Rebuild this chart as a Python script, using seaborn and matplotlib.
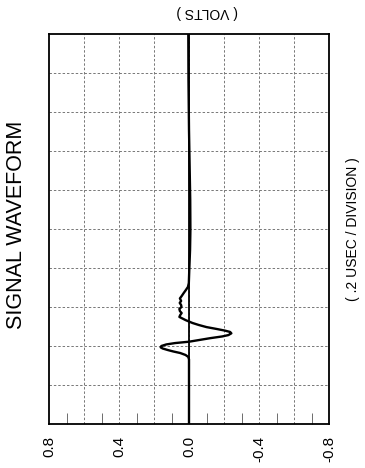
import matplotlib
matplotlib.use("Agg")
import matplotlib.pyplot as plt
import seaborn as sns
import numpy as np
from matplotlib.ticker import FixedLocator, FixedFormatter
from matplotlib import font_manager

# ---- data (time in microseconds, signal in volts) ----
time_us = [0.000, 0.331, 0.344, 0.354, 0.364, 0.372, 0.379, 0.387, 0.393, 0.400,
           0.408, 0.415, 0.422, 0.431, 0.440, 0.449, 0.456, 0.465, 0.472, 0.479,
           0.487, 0.497, 0.508, 0.518, 0.533, 0.549, 0.559, 0.569, 0.579, 0.590,
           0.600, 0.610, 0.621, 0.631, 0.644, 0.656, 0.672, 0.687, 0.703, 0.723,
           0.800, 0.892, 0.995, 1.149, 1.303, 1.508, 1.764, 2.000]
volts = [0.000, 0.000, 0.004, 0.020, 0.050, 0.090, 0.120, 0.150, 0.162, 0.158,
         0.130, 0.080, 0.000, -0.060, -0.120, -0.190, -0.225, -0.242, -0.235, -0.205,
         -0.160, -0.100, -0.055, -0.020, 0.020, 0.055, 0.050, 0.042, 0.052, 0.055,
         0.043, 0.045, 0.053, 0.045, 0.052, 0.042, 0.030, 0.018, 0.006, 0.001,
         -0.002, -0.006, -0.008, -0.007, -0.004, 0.000, 0.003, 0.004]

volt_ticks = [0.8, 0.4, 0.0, -0.4, -0.8]
volt_tick_labels = ["0.8", "0.4", "0.0", "-0.4", "-0.8"]
title = "SIGNAL WAVEFORM"
x_unit = "( .2 USEC / DIVISION )"
y_unit = "( VOLTS )"

sns.set_style("white")
plt.rcParams['font.family'] = ['Liberation Sans', 'DejaVu Sans']

names = {f.name for f in font_manager.fontManager.ttflist}
title_family = 'Liberation Sans Narrow' if 'Liberation Sans Narrow' in names else 'Liberation Sans'
title_size = 17 if title_family == 'Liberation Sans Narrow' else 15.5

fig = plt.figure(figsize=(3.65, 4.68), dpi=100)
ax = fig.add_axes([49/365, 44/468, 280/365, 390/468])

# grid
grid_kw = dict(color='#777777', lw=0.7, linestyle=(0, (2.5, 2)))
for v in np.arange(-0.6, 0.61, 0.2):
    ax.axvline(v, zorder=1, **grid_kw)
for t in np.arange(0.2, 1.81, 0.2):
    ax.axhline(t, zorder=1, **grid_kw)

# zero reference line
ax.axvline(0, color='black', lw=1.3, zorder=2)

sns.lineplot(x=volts, y=time_us, sort=False, estimator=None, color='black',
             lw=1.7, ax=ax, zorder=3)

ax.set_xlim(0.8, -0.8)
ax.set_ylim(0, 2.0)

ax.xaxis.set_major_locator(FixedLocator(volt_ticks))
ax.xaxis.set_major_formatter(FixedFormatter(volt_tick_labels))
ax.xaxis.set_minor_locator(FixedLocator([0.7, 0.5, 0.3, 0.1, -0.1, -0.3, -0.5, -0.7]))
ax.tick_params(axis='x', which='major', length=0, pad=8.5, labelsize=11,
               rotation=90, colors='black')
ax.tick_params(axis='x', which='minor', direction='in', length=8, width=0.6,
               color='#555555', bottom=True, top=False)
ax.set_yticks([])
ax.set_xlabel("")
ax.set_ylabel("")

for s in ax.spines.values():
    s.set_color('black')
    s.set_linewidth(1.3)

fig.text(17/365, 1 - 225/468, title, rotation=90, ha='center', va='center',
         fontsize=title_size, family=title_family, color='black')
fig.text(353/365, 1 - 229/468, x_unit, rotation=90, ha='center', va='center',
         fontsize=10, color='black')
fig.text(207/365, 1 - 12/468, y_unit, rotation=180, ha='center', va='center',
         fontsize=10, color='black')

fig.savefig("out.png", dpi=100, facecolor='white')
